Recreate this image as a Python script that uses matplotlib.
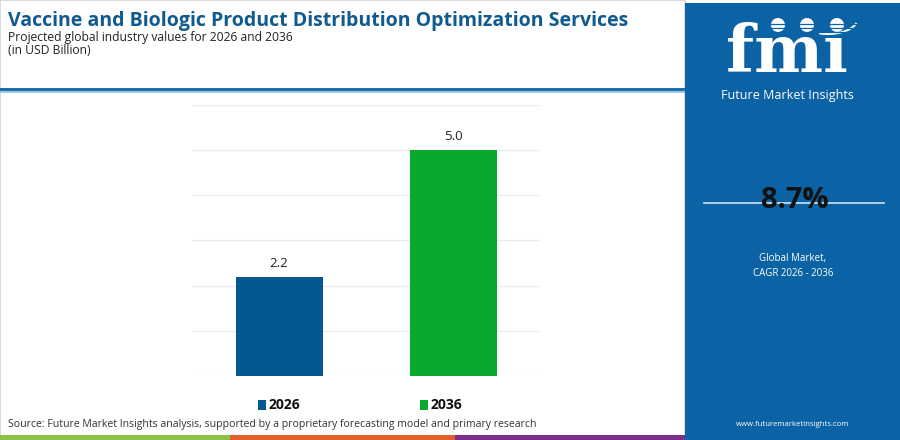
import matplotlib
matplotlib.use("Agg")
from matplotlib import pyplot as plt
from matplotlib.patches import Rectangle, Circle, Arc

# data
years = ["2026", "2036"]
values = [2.2, 5.0]
bar_colors = ["#03598f", "#08aa2e"]
yticks = [0, 1, 2, 3, 4, 5, 6]
cagr = "8.7%"

title = "Vaccine and Biologic Product Distribution Optimization Services"
subtitle = "Projected global industry values for 2026 and 2036"
unit = "(in USD Billion)"
source = "Source: Future Market Insights analysis, supported by a proprietary forecasting model and primary research"

W, H = 900, 440
fig = plt.figure(figsize=(W / 100, H / 100), dpi=100)

# background layer in pixel coordinates (y grows downward)
bg = fig.add_axes([0, 0, 1, 1], zorder=0)
bg.set_xlim(0, W)
bg.set_ylim(H, 0)
bg.axis("off")

panel = "#0b62a4"
bg.add_patch(Rectangle((0, 0), 685, 440, facecolor="white", edgecolor="#d5d5d5", lw=1.2))
bg.add_patch(Rectangle((685, 3), 215, 437, facecolor=panel, edgecolor="none"))
# header separator
bg.add_patch(Rectangle((0, 88), 685, 3.5, facecolor="#1d6ea9", edgecolor="none"))
bg.add_patch(Rectangle((0, 91.5), 685, 1.5, facecolor="#9cc9ea", edgecolor="none"))
# bottom colour stripe
for x0, x1, c in [(0, 230, "#8bc34a"), (230, 455, "#e2602f"), (455, 685, "#7e2f8c")]:
    bg.add_patch(Rectangle((x0, 435), x1 - x0, 5, facecolor=c, edgecolor="none"))

bg.text(8, 21, title, fontsize=14, fontweight="bold", color="#0f5a8f",
        family="Open Sans", va="center", ha="left")
bg.text(8, 38, subtitle, fontsize=8.7, color="#222222", family="Open Sans", va="center")
bg.text(8, 51, unit, fontsize=8.7, color="#222222", family="Open Sans", va="center")
bg.text(8, 424, source, fontsize=7.6, color="#333333", family="Open Sans", va="center")

# logo
bg.text(787, 72, "fmı", fontsize=47, fontweight="bold", family="DejaVu Serif",
        color="white", ha="center", va="baseline")
for yy in range(24, 74, 4):
    bg.plot([715, 860], [yy, yy], color=panel, lw=0.9)
for cx in [778, 807, 837]:
    bg.add_patch(Circle((cx, 25), 7, facecolor="white", edgecolor="none"))
bg.add_patch(Arc((828, 18), 60, 32, theta1=10, theta2=120, color="white", lw=1.5))
bg.text(787, 95, "Future Market Insights", fontsize=9, color="white",
        family="Open Sans", ha="center", va="center")

# CAGR block
bg.plot([704, 884], [203, 203], color="#cfe3f3", lw=1.2)
bg.text(795, 201, cagr, fontsize=21, fontweight="bold", color="#111111",
        family="Open Sans", ha="center", va="center")
bg.text(793, 259, "Global Market,", fontsize=7, color="white", family="Open Sans",
        ha="center", va="center")
bg.text(793, 273, "CAGR 2026 - 2036", fontsize=7, color="white", family="Open Sans",
        ha="center", va="center")
bg.text(793, 424, "www.futuremarketinsights.com", fontsize=5.6, color="white",
        family="Open Sans", ha="center", va="center")

# bar chart
ax = fig.add_axes([192 / W, 1 - 376 / H, 348 / W, (376 - 104.7) / H], zorder=1)
ax.patch.set_alpha(0)
x = range(len(years))
bars = ax.bar(x, values, width=0.5, color=bar_colors, zorder=2)
ax.set_xlim(-0.5, 1.5)
ax.set_ylim(0, 6)
ax.set_yticks(yticks)
ax.grid(axis="y", color="#ebebeb", lw=1, zorder=0)
ax.tick_params(left=False, bottom=False, labelleft=False, labelbottom=False)
for s in ax.spines.values():
    s.set_visible(False)
for b, v in zip(bars, values):
    ax.annotate(f"{v:.1f}", (b.get_x() + b.get_width() / 2, v), xytext=(0, 5),
                textcoords="offset points", ha="center", va="bottom",
                fontsize=9.5, color="#222222", family="Open Sans")

# legend
for lx, yr, c in [(258, years[0], bar_colors[0]), (420, years[1], bar_colors[1])]:
    bg.add_patch(Rectangle((lx, 400), 8, 10, facecolor=c, edgecolor="none"))
    bg.text(lx + 11, 405, yr, fontsize=10, fontweight="bold", color="#111111",
            family="Open Sans", va="center")

fig.savefig("out.png", dpi=100)
